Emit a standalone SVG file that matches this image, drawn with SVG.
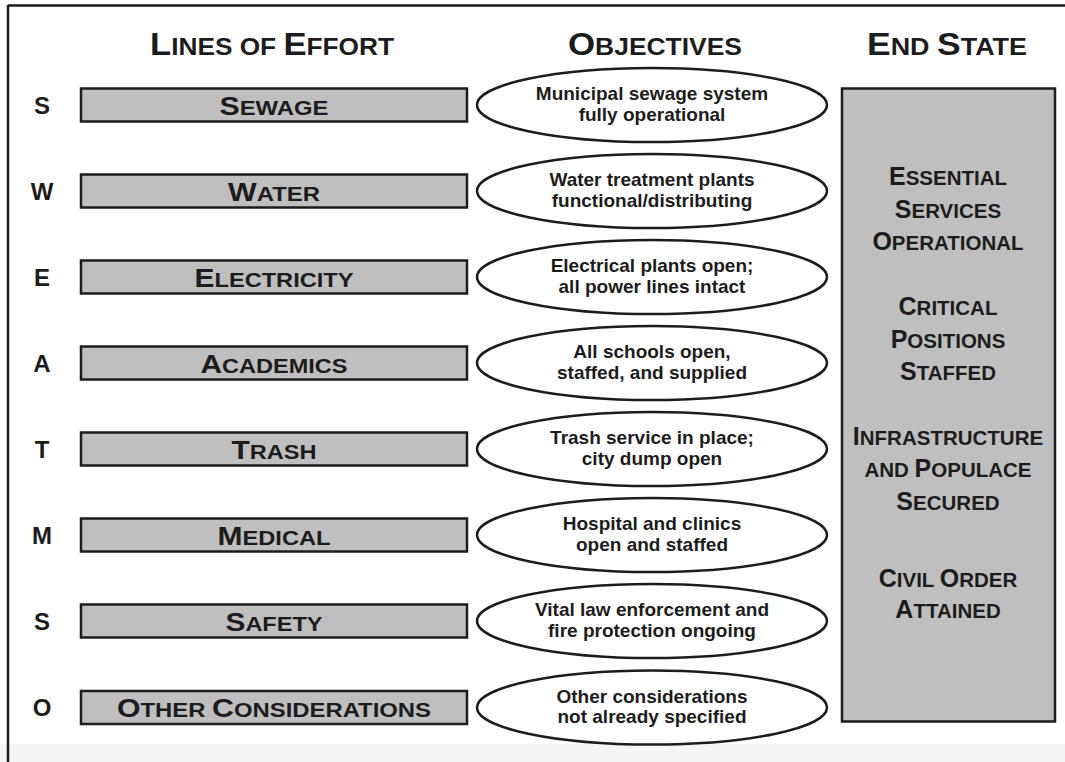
<svg xmlns="http://www.w3.org/2000/svg" width="1065" height="762" viewBox="0 0 1065 762">
<style>
.t{font-family:"Liberation Sans",Arial,sans-serif;font-weight:bold;fill:#1c1c1c}
.hd{font-size:31px}
.hd tspan.s{font-size:23.5px}
.bl{font-size:26px;text-anchor:middle}
.bl tspan.s{font-size:20.5px}
.lt{font-size:24px;text-anchor:middle}
.ob{font-size:19px;text-anchor:middle}
.es{font-size:25px;text-anchor:middle}
.es tspan.s{font-size:20.5px}
.bar{fill:#bfbfbf;stroke:#1c1c1c;stroke-width:2.5}
.ell{fill:#ffffff;stroke:#1c1c1c;stroke-width:2.5}
</style>
<rect x="0" y="0" width="1065" height="762" fill="#ffffff"/>
<rect x="0" y="744" width="1065" height="18" fill="#f3f5f7"/>
<g id="frame" stroke="#1c1c1c" stroke-width="2.5" fill="none">
<line x1="8" y1="5.5" x2="1065" y2="5.5"/>
<line x1="8" y1="5" x2="8" y2="762"/>
</g>
<g id="headers">
<text class="t hd" x="272" y="55" text-anchor="middle" textLength="244" lengthAdjust="spacingAndGlyphs">L<tspan class="s">INES OF </tspan>E<tspan class="s">FFORT</tspan></text>
<text class="t hd" x="655" y="55" text-anchor="middle" textLength="174" lengthAdjust="spacingAndGlyphs">O<tspan class="s">BJECTIVES</tspan></text>
<text class="t hd" x="947" y="55" text-anchor="middle" textLength="160" lengthAdjust="spacingAndGlyphs">E<tspan class="s">ND </tspan>S<tspan class="s">TATE</tspan></text>
</g>
<g id="row-sewage">
<text class="t lt" x="42" y="113.5">S</text>
<rect class="bar" x="81" y="88.5" width="386" height="33"/>
<text class="t bl" x="274" y="114.5" textLength="109" lengthAdjust="spacingAndGlyphs">S<tspan class="s">EWAGE</tspan></text>
<ellipse class="ell" cx="652" cy="105" rx="175" ry="37"/>
<text class="t ob" x="652" y="100">Municipal sewage system</text>
<text class="t ob" x="652" y="120.5">fully operational</text>
</g>
<g id="row-water">
<text class="t lt" x="42" y="199.5">W</text>
<rect class="bar" x="81" y="174.5" width="386" height="33"/>
<text class="t bl" x="274" y="200.5" textLength="92" lengthAdjust="spacingAndGlyphs">W<tspan class="s">ATER</tspan></text>
<ellipse class="ell" cx="652" cy="191" rx="175" ry="37"/>
<text class="t ob" x="652" y="186">Water treatment plants</text>
<text class="t ob" x="652" y="206.5">functional/distributing</text>
</g>
<g id="row-electricity">
<text class="t lt" x="42" y="285.5">E</text>
<rect class="bar" x="81" y="260.5" width="386" height="33"/>
<text class="t bl" x="274" y="286.5" textLength="159" lengthAdjust="spacingAndGlyphs">E<tspan class="s">LECTRICITY</tspan></text>
<ellipse class="ell" cx="652" cy="277" rx="175" ry="37"/>
<text class="t ob" x="652" y="272">Electrical plants open;</text>
<text class="t ob" x="652" y="292.5">all power lines intact</text>
</g>
<g id="row-academics">
<text class="t lt" x="42" y="371.5">A</text>
<rect class="bar" x="81" y="346.5" width="386" height="33"/>
<text class="t bl" x="274" y="372.5" textLength="147" lengthAdjust="spacingAndGlyphs">A<tspan class="s">CADEMICS</tspan></text>
<ellipse class="ell" cx="652" cy="363" rx="175" ry="37"/>
<text class="t ob" x="652" y="358">All schools open,</text>
<text class="t ob" x="652" y="378.5">staffed, and supplied</text>
</g>
<g id="row-trash">
<text class="t lt" x="42" y="457.5">T</text>
<rect class="bar" x="81" y="432.5" width="386" height="33"/>
<text class="t bl" x="274" y="458.5" textLength="85" lengthAdjust="spacingAndGlyphs">T<tspan class="s">RASH</tspan></text>
<ellipse class="ell" cx="652" cy="449" rx="175" ry="37"/>
<text class="t ob" x="652" y="444">Trash service in place;</text>
<text class="t ob" x="652" y="464.5">city dump open</text>
</g>
<g id="row-medical">
<text class="t lt" x="42" y="543.5">M</text>
<rect class="bar" x="81" y="518.5" width="386" height="33"/>
<text class="t bl" x="274" y="544.5" textLength="113" lengthAdjust="spacingAndGlyphs">M<tspan class="s">EDICAL</tspan></text>
<ellipse class="ell" cx="652" cy="535" rx="175" ry="37"/>
<text class="t ob" x="652" y="530">Hospital and clinics</text>
<text class="t ob" x="652" y="550.5">open and staffed</text>
</g>
<g id="row-safety">
<text class="t lt" x="42" y="629.5">S</text>
<rect class="bar" x="81" y="604.5" width="386" height="33"/>
<text class="t bl" x="274" y="630.5" textLength="97" lengthAdjust="spacingAndGlyphs">S<tspan class="s">AFETY</tspan></text>
<ellipse class="ell" cx="652" cy="621" rx="175" ry="37"/>
<text class="t ob" x="652" y="616">Vital law enforcement and</text>
<text class="t ob" x="652" y="636.5">fire protection ongoing</text>
</g>
<g id="row-other">
<text class="t lt" x="42" y="716">O</text>
<rect class="bar" x="81" y="691" width="386" height="33"/>
<text class="t bl" x="274" y="717" textLength="314" lengthAdjust="spacingAndGlyphs">O<tspan class="s">THER </tspan>C<tspan class="s">ONSIDERATIONS</tspan></text>
<ellipse class="ell" cx="652" cy="707.5" rx="175" ry="37"/>
<text class="t ob" x="652" y="702.5">Other considerations</text>
<text class="t ob" x="652" y="723">not already specified</text>
</g>
<g id="end-state">
<rect class="bar" x="842" y="88.5" width="213" height="633"/>
<text class="t es" x="948" y="185">E<tspan class="s">SSENTIAL</tspan></text>
<text class="t es" x="948" y="218">S<tspan class="s">ERVICES</tspan></text>
<text class="t es" x="948" y="250">O<tspan class="s">PERATIONAL</tspan></text>
<text class="t es" x="948" y="315">C<tspan class="s">RITICAL</tspan></text>
<text class="t es" x="948" y="348">P<tspan class="s">OSITIONS</tspan></text>
<text class="t es" x="948" y="380">S<tspan class="s">TAFFED</tspan></text>
<text class="t es" x="948" y="445">I<tspan class="s">NFRASTRUCTURE</tspan></text>
<text class="t es" x="948" y="477"><tspan class="s">AND </tspan>P<tspan class="s">OPULACE</tspan></text>
<text class="t es" x="948" y="510">S<tspan class="s">ECURED</tspan></text>
<text class="t es" x="948" y="587">C<tspan class="s">IVIL </tspan>O<tspan class="s">RDER</tspan></text>
<text class="t es" x="948" y="618">A<tspan class="s">TTAINED</tspan></text>
</g>
<g id="connectors"/>
</svg>
